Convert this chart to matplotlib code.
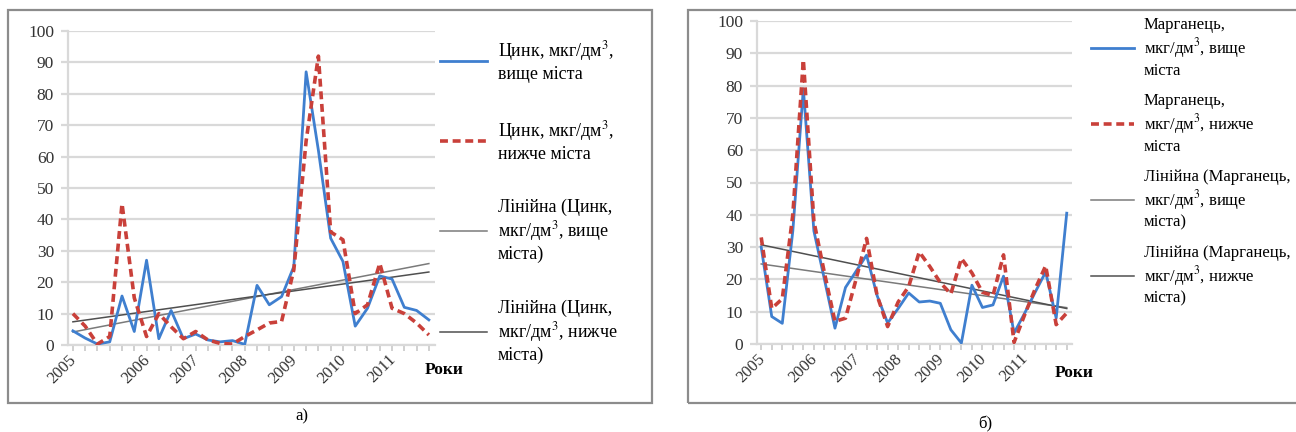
import numpy as np
import matplotlib
matplotlib.use("Agg")
import matplotlib.pyplot as plt
from matplotlib.patches import Rectangle
from matplotlib.transforms import ScaledTranslation

plt.rcParams['font.family'] = ['Liberation Serif', 'DejaVu Serif']
plt.rcParams['mathtext.fontset'] = 'stix'

# --- data (one value per sampling, 2005..2011) ---
years = ['2005', '2006', '2007', '2008', '2009', '2010', '2011']
zinc_year_pos = [0, 6, 10, 14, 18, 22, 26]
mn_year_pos = [0, 5, 9, 13, 17, 21, 25]

zinc_up = [4.5, 2.2, 0.3, 1.0, 15.6, 4.3, 27.0, 2.0, 11.0, 2.0, 3.5, 1.6, 1.0, 1.4,
           0.2, 19.0, 12.8, 15.4, 25.0, 87.0, 62.0, 34.0, 26.6, 6.0, 11.7, 22.0,
           21.0, 12.0, 11.0, 8.0]
zinc_down = [10.0, 6.0, 0.3, 2.7, 45.0, 15.0, 2.7, 10.0, 5.8, 2.0, 4.3, 1.6, 0.5,
             0.3, 2.7, 4.8, 7.0, 7.5, 24.0, 65.0, 92.0, 36.0, 33.5, 10.0, 12.8,
             26.0, 11.7, 10.0, 7.0, 3.2]

mn_up = [30.0, 8.5, 6.4, 35.0, 79.0, 35.0, 20.0, 4.9, 17.5, 22.5, 27.5, 15.0, 6.5,
         11.0, 15.8, 13.0, 13.3, 12.6, 4.4, 0.3, 18.2, 11.3, 12.1, 21.0, 3.4, 9.5,
         16.0, 22.3, 8.0, 40.5]
mn_down = [33.0, 11.0, 14.0, 40.0, 88.0, 38.0, 22.0, 7.0, 8.0, 20.0, 32.7, 15.0,
           5.4, 13.0, 17.8, 28.5, 24.0, 19.0, 15.5, 26.5, 22.0, 16.0, 15.0, 27.6,
           0.5, 9.0, 17.0, 24.2, 6.0, 9.6]

zinc_labels = ['Цинк, мкг/дм$^3$,\nвище міста',
               'Цинк, мкг/дм$^3$,\nнижче міста',
               'Лінійна (Цинк,\nмкг/дм$^3$, вище\nміста)',
               'Лінійна (Цинк,\nмкг/дм$^3$, нижче\nміста)']
mn_labels = ['Марганець,\nмкг/дм$^3$, вище\nміста',
             'Марганець,\nмкг/дм$^3$, нижче\nміста',
             'Лінійна (Марганець,\nмкг/дм$^3$, вище\nміста)',
             'Лінійна (Марганець,\nмкг/дм$^3$, нижче\nміста)']

BLUE = '#3f7fcf'
RED = '#c9403a'
GRID = '#d9d9d9'
W, H = 1296.0, 432.0


def panel(fig, rect, up, down, year_pos, labels, legend_anchor, spacing, fs):
    ax = fig.add_axes(rect)
    x = np.arange(len(up))
    l1, = ax.plot(x, up, color=BLUE, lw=2.0, zorder=4)
    l2, = ax.plot(x, down, color=RED, lw=2.6, ls=(0, (2.2, 1.3)), zorder=5)
    # linear trends as Excel would draw them
    k1 = np.polyfit(x, up, 1)
    k2 = np.polyfit(x, down, 1)
    l3, = ax.plot(x, np.polyval(k1, x), color='#7a7a7a', lw=1.1, zorder=3)
    l4, = ax.plot(x, np.polyval(k2, x), color='#4f4f4f', lw=1.1, zorder=3)

    ax.set_ylim(0, 100)
    ax.set_xlim(-0.4, len(up) - 0.5)
    ax.set_yticks(range(0, 101, 10))
    ax.yaxis.grid(True, color=GRID, lw=1.6)
    ax.set_axisbelow(True)
    for s in ['top', 'right']:
        ax.spines[s].set_visible(False)
    ax.spines['left'].set_color(GRID)
    ax.spines['bottom'].set_color(GRID)
    ax.spines['left'].set_linewidth(1.6)
    ax.spines['bottom'].set_linewidth(1.6)
    ax.tick_params(axis='y', length=5, color=GRID, width=1.6, labelsize=12.5,
                   pad=5, labelcolor='#333333')
    ax.set_xticks(x, minor=True)
    ax.tick_params(axis='x', which='minor', length=4, color='#c8c8c8', width=1.2)
    ax.set_xticks(year_pos)
    ax.set_xticklabels(years, rotation=45, ha='right', va='top', fontsize=12,
                       color='#333333')
    ax.tick_params(axis='x', which='major', length=4, color='#c8c8c8', width=1.2, pad=1)
    off = ScaledTranslation(7 / 100.0, 0, fig.dpi_scale_trans)
    for t in ax.get_xticklabels():
        t.set_transform(t.get_transform() + off)

    leg = fig.legend([l1, l2, l3, l4], labels, loc='upper left',
                     bbox_to_anchor=legend_anchor, frameon=False, fontsize=fs,
                     handlelength=2.6, handletextpad=0.6, labelspacing=spacing,
                     borderaxespad=0)
    for t in leg.get_texts():
        t.set_linespacing(1.2)
    return ax


fig = plt.figure(figsize=(12.96, 4.32), dpi=100)

# panel frames
fig.patches.append(Rectangle((8 / W, 1 - 403 / H), 644 / W, 393 / H,
                             transform=fig.transFigure, fill=False,
                             edgecolor='#8c8c8c', lw=1.6))
fig.patches.append(Rectangle((688 / W, 1 - 403 / H), 620 / W, 393 / H,
                             transform=fig.transFigure, fill=False,
                             edgecolor='#8c8c8c', lw=1.6))

panel(fig, [68 / W, 1 - 345 / H, 367 / W, 314 / H], zinc_up, zinc_down,
      zinc_year_pos, zinc_labels, (433 / W, 1 - 32 / H), 2.0, 13)
panel(fig, [757 / W, 1 - 344 / H, 315 / W, 323 / H], mn_up, mn_down,
      mn_year_pos, mn_labels, (1084 / W, 1 - 10 / H), 0.85, 12)

fig.text(425 / W, 1 - 370 / H, 'Роки', fontsize=12.5, fontweight='bold',
         va='center', ha='left')
fig.text(1055 / W, 1 - 373 / H, 'Роки', fontsize=12.5, fontweight='bold',
         va='center', ha='left')
fig.text(302 / W, 1 - 416 / H, 'а)', fontsize=12, ha='center', va='center')
fig.text(985 / W, 1 - 424 / H, 'б)', fontsize=12, ha='center', va='center')

fig.savefig('out.png', dpi=100, facecolor='white')
